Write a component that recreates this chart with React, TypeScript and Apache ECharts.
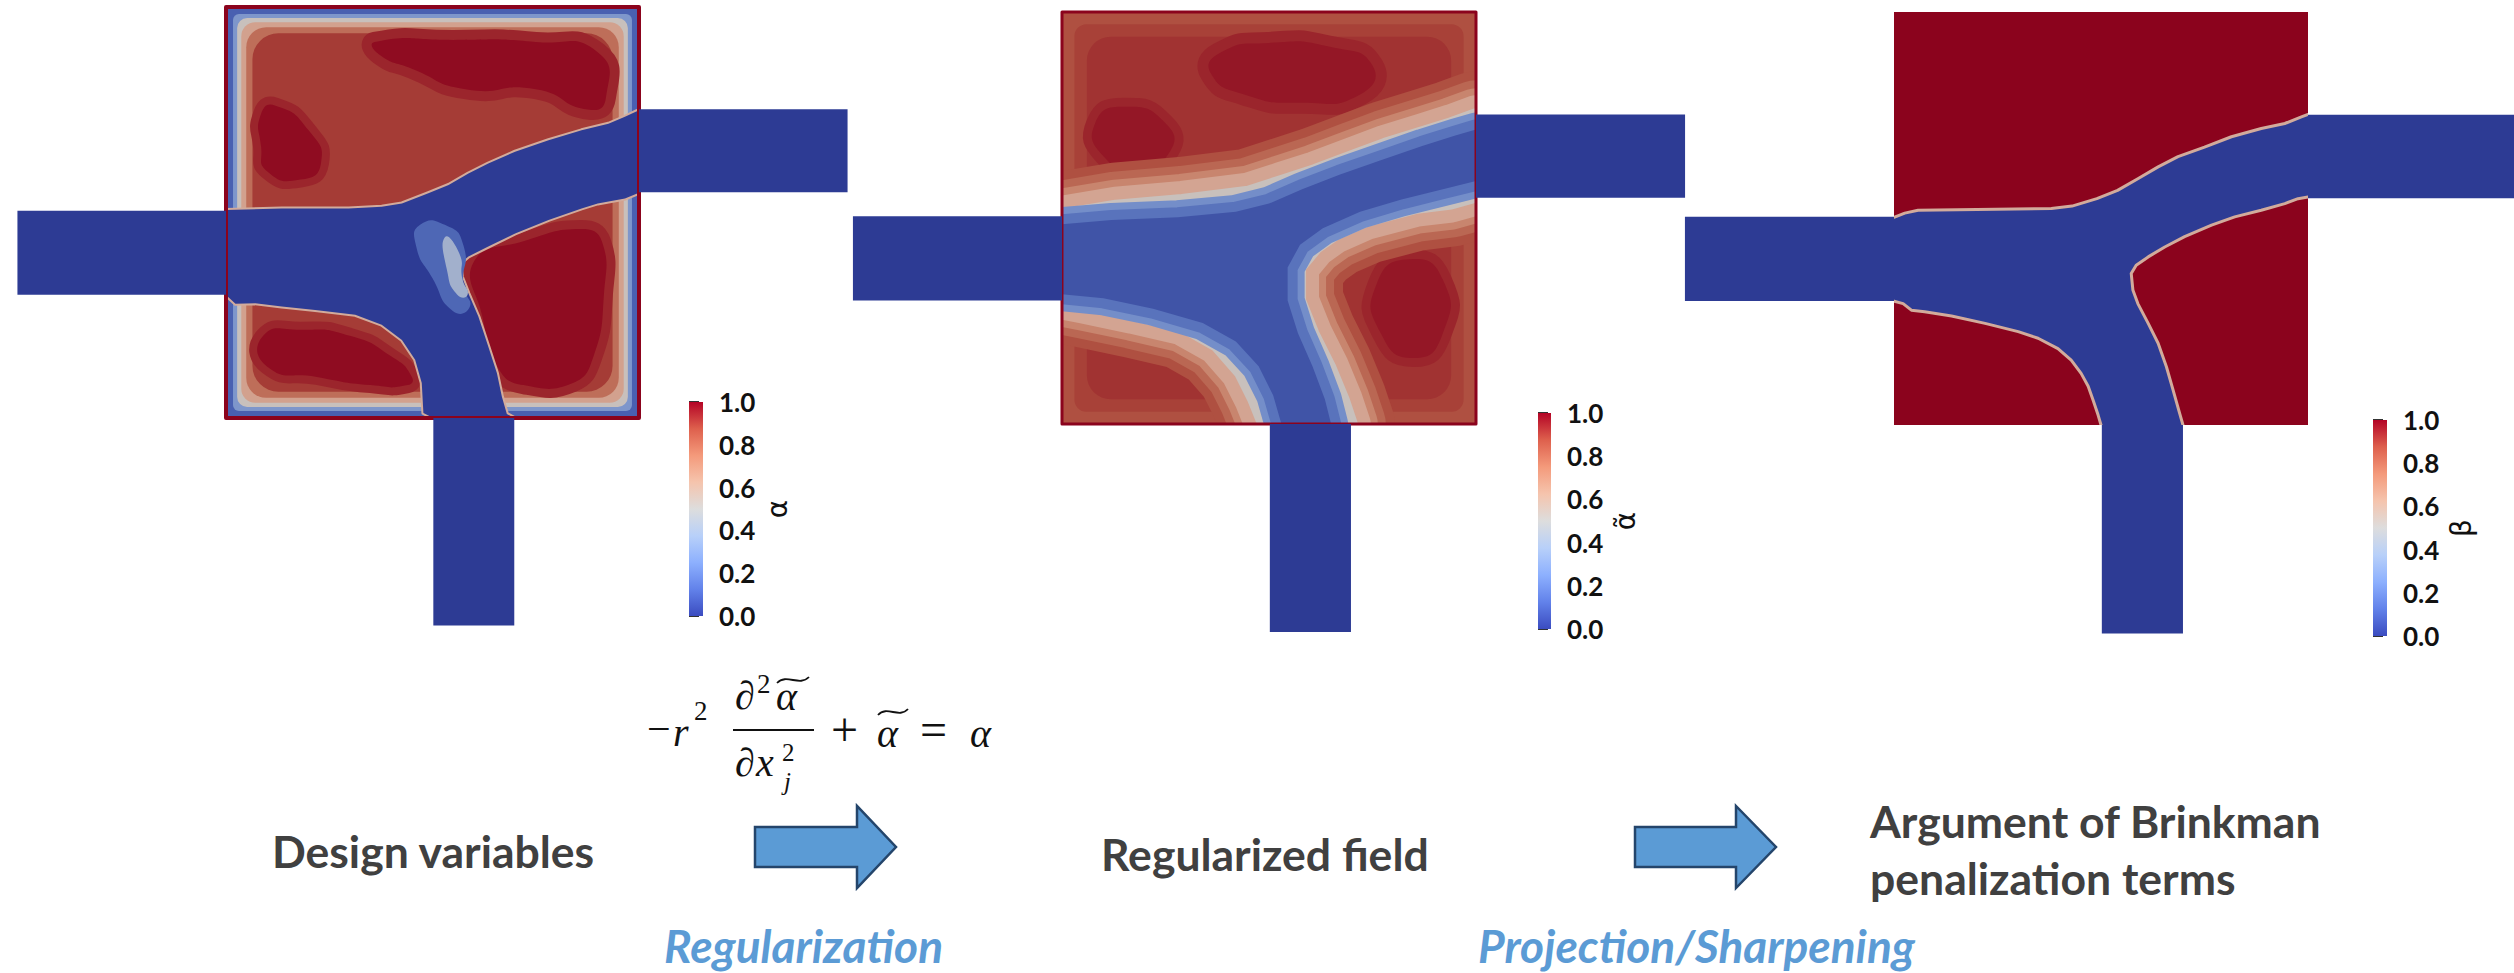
import React, { useEffect, useRef } from "react";
import * as echarts from "echarts";

const PAGE_W = 2514;
const PAGE_H = 973;

// ---- colour maps (cool-to-warm) ----
const FIELD_COLORS = ["#2d3b94", "#4a62b2", "#6d88c8", "#98acd0", "#c8c0bc", "#d4a694", "#c47a62", "#ac4a3c", "#8b031d"];
const BAR_COLORS = ["#3b4cc0", "#6282ea", "#8db0fe", "#b8d0f9", "#dddddd", "#f5c4ad", "#f49a7b", "#de604d", "#b40426"];

// ---- colour-bar axis ----
const BAR_MIN = 0;
const BAR_MAX = 1;
const BAR_STEP = 0.2;
const BAR_TITLES = ["α", "α̃", "β"];

// ---- labels ----
const STAGE_LABELS = ["Design variables", "Regularized field", "Argument of Brinkman", "penalization terms"];
const STEP_LABELS = ["Regularization", "Projection/Sharpening"];

// ---- geometry, in units of the square design domain (u right, v down) ----
const SQUARE = [[0, 0], [1, 0], [1, 1], [0, 1]];
const PIPES = [
  [-0.505, 0.496, 0, 0.7],
  [1, 0.249, 1.505, 0.451],
  [0.502, 1, 0.698, 1.505],
];
// insets of the wall layers from the square's edge
const P1_WALL_INSETS = [0, 0.017, 0.027, 0.037, 0.049, 0.064];
const P2_WALL_INSETS = [0, 0.03, 0.06];

const P1_CHANNEL = [
  [-0.1, 0.494], [0, 0.494], [0.135, 0.49], [0.297, 0.49], [0.377, 0.486], [0.426, 0.478], [0.49, 0.453],
  [0.539, 0.433], [0.587, 0.405], [0.635, 0.381], [0.7, 0.352], [0.781, 0.324], [0.861, 0.3], [0.926, 0.284],
  [0.966, 0.267], [1, 0.251], [1.1, 0.251],
  [1.1, 0.452], [1, 0.452], [0.966, 0.466], [0.9, 0.478], [0.861, 0.49], [0.781, 0.518], [0.7, 0.551],
  [0.635, 0.583], [0.587, 0.607], [0.567, 0.624], [0.571, 0.656], [0.587, 0.697], [0.611, 0.753],
  [0.635, 0.826], [0.656, 0.891], [0.668, 0.948], [0.68, 0.99], [0.698, 1], [0.698, 1.1],
  [0.502, 1.1], [0.502, 1], [0.478, 0.988], [0.474, 0.915], [0.458, 0.858], [0.426, 0.81], [0.377, 0.773],
  [0.313, 0.749], [0.216, 0.737], [0.135, 0.729], [0.071, 0.721], [0.023, 0.722], [0, 0.701], [-0.1, 0.701],
];
const P1_DARK_TOP = [[0.36, 0.085], [0.55, 0.08], [0.75, 0.085], [0.9, 0.11], [0.92, 0.22], [0.88, 0.25], [0.75, 0.2], [0.58, 0.2], [0.45, 0.15], [0.37, 0.115]];
const P1_DARK_LEFT = [[0.085, 0.26], [0.12, 0.24], [0.2, 0.3], [0.23, 0.38], [0.18, 0.42], [0.1, 0.4], [0.085, 0.34]];
const P1_DARK_LR = [[0.6, 0.62], [0.72, 0.57], [0.86, 0.54], [0.91, 0.57], [0.915, 0.7], [0.89, 0.85], [0.84, 0.915], [0.72, 0.92], [0.66, 0.88], [0.62, 0.75]];
const P1_DARK_LL = [[0.09, 0.8], [0.18, 0.785], [0.3, 0.8], [0.4, 0.85], [0.45, 0.9], [0.44, 0.92], [0.35, 0.92], [0.22, 0.9], [0.1, 0.875]];
const P1_CROTCH_WIDE = [[0.47, 0.53], [0.53, 0.53], [0.575, 0.58], [0.575, 0.68], [0.59, 0.73], [0.55, 0.74], [0.5, 0.66], [0.46, 0.58]];
const P1_CROTCH_NARROW = [[0.53, 0.56], [0.565, 0.6], [0.572, 0.66], [0.585, 0.7], [0.56, 0.7], [0.535, 0.64]];

const P2_CHANNEL = [
  [-0.1, 0.492], [0, 0.492], [0.13, 0.47], [0.29, 0.456], [0.45, 0.436], [0.53, 0.41], [0.61, 0.384], [0.7, 0.35],
  [0.78, 0.32], [0.87, 0.292], [0.94, 0.27], [1, 0.248], [1.1, 0.248],
  [1.1, 0.448], [1, 0.448], [0.94, 0.465], [0.857, 0.475], [0.735, 0.507], [0.66, 0.54], [0.615, 0.572],
  [0.575, 0.62], [0.575, 0.7], [0.607, 0.78], [0.647, 0.86], [0.68, 0.94], [0.7, 1], [0.7, 1.1],
  [0.486, 1.1], [0.486, 1], [0.462, 0.94], [0.43, 0.876], [0.373, 0.81], [0.29, 0.763], [0.17, 0.735],
  [0.05, 0.71], [0, 0.7], [-0.1, 0.7],
];
const P2_CORE = [
  [-0.1, 0.515], [0, 0.515], [0.12, 0.505], [0.28, 0.498], [0.42, 0.485], [0.5, 0.465], [0.58, 0.43], [0.67, 0.395],
  [0.77, 0.36], [0.87, 0.325], [0.95, 0.3], [1, 0.285], [1.1, 0.285],
  [1.1, 0.41], [1, 0.41], [0.92, 0.43], [0.82, 0.455], [0.72, 0.485], [0.63, 0.525], [0.575, 0.565],
  [0.545, 0.62], [0.545, 0.7], [0.57, 0.78], [0.605, 0.86], [0.635, 0.94], [0.65, 1], [0.65, 1.1],
  [0.53, 1.1], [0.53, 1], [0.51, 0.93], [0.475, 0.86], [0.42, 0.8], [0.34, 0.755], [0.22, 0.72],
  [0.1, 0.695], [0, 0.685], [-0.1, 0.685],
];
const P2_DARK_TOP = [[0.38, 0.1], [0.5, 0.075], [0.65, 0.085], [0.75, 0.13], [0.72, 0.2], [0.58, 0.22], [0.44, 0.2], [0.36, 0.15]];
const P2_DARK_LEFT = [[0.08, 0.27], [0.15, 0.23], [0.25, 0.27], [0.26, 0.34], [0.18, 0.38], [0.1, 0.35]];
const P2_DARK_RIGHT = [[0.76, 0.66], [0.84, 0.6], [0.92, 0.65], [0.92, 0.78], [0.85, 0.84], [0.77, 0.78]];

const P3_CHANNEL = [
  [-0.1, 0.497], [0, 0.497], [0.026, 0.487], [0.058, 0.48], [0.2, 0.478], [0.38, 0.476], [0.43, 0.47], [0.49, 0.452],
  [0.54, 0.432], [0.59, 0.403], [0.638, 0.375], [0.686, 0.35], [0.75, 0.327], [0.815, 0.302], [0.887, 0.282],
  [0.944, 0.27], [0.984, 0.254], [1, 0.248], [1.1, 0.248],
  [1.1, 0.448], [1, 0.448], [0.976, 0.452], [0.944, 0.464], [0.887, 0.48], [0.823, 0.496], [0.767, 0.516],
  [0.702, 0.544], [0.654, 0.569], [0.614, 0.593], [0.585, 0.613], [0.573, 0.633], [0.577, 0.673], [0.589, 0.706],
  [0.614, 0.754], [0.638, 0.802], [0.658, 0.859], [0.674, 0.915], [0.69, 0.972], [0.698, 1], [0.698, 1.1],
  [0.5, 1.1], [0.5, 1], [0.493, 0.976], [0.481, 0.94], [0.469, 0.906], [0.452, 0.875], [0.428, 0.843],
  [0.396, 0.815], [0.348, 0.79], [0.3, 0.774], [0.22, 0.754], [0.139, 0.736], [0.074, 0.726], [0.042, 0.722],
  [0.022, 0.706], [0, 0.7], [-0.1, 0.7],
];

// ---- field levels (0..1) ----
const P1_LEVELS = {
  wall: [0.12, 0.3, 0.5, 0.64, 0.78, 0.9], darkHalo: 0.94, dark: 0.985, channel: 0, rim: 0.6,
  crotchWide: 0.14, crotchNarrow: 0.4, border: 1,
};
const P2_LEVELS = {
  wall: [0.86, 0.89, 0.915], darkHalo: 0.94, dark: 0.965, halo: [0.86, 0.8, 0.72, 0.63], channel: 0.36, rim: 0.5,
  coreRim: [0.27, 0.18], core: 0.08, border: 1,
};
const P3_LEVELS = { base: 1, channel: 0, rim: 0.6 };
const PIPE_LEVEL = 0;

// ---- layout (pixels) ----
const PANEL_BOXES = [
  { left: 226, top: 7, width: 413, height: 411 },
  { left: 1062, top: 12, width: 414, height: 412 },
  { left: 1894, top: 12, width: 414, height: 413 },
];
const BAR_BOXES = [
  { left: 689, top: 402, width: 14, height: 214 },
  { left: 1538, top: 413, width: 13, height: 216 },
  { left: 2373, top: 420, width: 14, height: 216 },
];
const P1_WALL_RADII = [0, 6, 10, 14, 20, 26];
const P2_WALL_RADII = [0, 12, 24];

type Layer = { shape?: number[][]; inset?: number; radius?: number; level: number; width?: number; smooth?: number };

const pipeRect = (p: number[]) => [[p[0], p[1]], [p[2], p[1]], [p[2], p[3]], [p[0], p[3]]];

function buildLayers() {
  const L1 = P1_LEVELS;
  const L2 = P2_LEVELS;
  const p1: Layer[] = [
    ...P1_WALL_INSETS.map((inset, k) => ({ inset, radius: P1_WALL_RADII[k], level: L1.wall[k] })),
    { shape: P1_DARK_TOP, level: L1.darkHalo, width: 20, smooth: 0.6 },
    { shape: P1_DARK_LEFT, level: L1.darkHalo, width: 16, smooth: 0.6 },
    { shape: P1_DARK_LR, level: L1.darkHalo, width: 18, smooth: 0.5 },
    { shape: P1_DARK_LL, level: L1.darkHalo, width: 16, smooth: 0.6 },
    { shape: P1_DARK_TOP, level: L1.dark, smooth: 0.6 },
    { shape: P1_DARK_LEFT, level: L1.dark, smooth: 0.6 },
    { shape: P1_DARK_LR, level: L1.dark, smooth: 0.5 },
    { shape: P1_DARK_LL, level: L1.dark, smooth: 0.6 },
    { shape: P1_CHANNEL, level: L1.rim, width: 4 },
    { shape: P1_CHANNEL, level: L1.channel },
    { shape: P1_CROTCH_WIDE, level: L1.crotchWide, smooth: 0.6 },
    { shape: P1_CROTCH_NARROW, level: L1.crotchNarrow, smooth: 0.6 },
  ];
  const p2: Layer[] = [
    ...P2_WALL_INSETS.map((inset, k) => ({ inset, radius: P2_WALL_RADII[k], level: L2.wall[k] })),
    { shape: P2_DARK_TOP, level: L2.darkHalo, width: 22, smooth: 0.6 },
    { shape: P2_DARK_LEFT, level: L2.darkHalo, width: 18, smooth: 0.6 },
    { shape: P2_DARK_RIGHT, level: L2.darkHalo, width: 18, smooth: 0.6 },
    { shape: P2_DARK_TOP, level: L2.dark, smooth: 0.6 },
    { shape: P2_DARK_LEFT, level: L2.dark, smooth: 0.6 },
    { shape: P2_DARK_RIGHT, level: L2.dark, smooth: 0.6 },
    { shape: P2_CHANNEL, level: L2.halo[0], width: 86 },
    { shape: P2_CHANNEL, level: L2.halo[1], width: 68 },
    { shape: P2_CHANNEL, level: L2.halo[2], width: 52 },
    { shape: P2_CHANNEL, level: L2.halo[3], width: 38 },
    { shape: P2_CHANNEL, level: L2.channel },
    { shape: P2_CHANNEL, level: L2.rim, width: 12 },
    { shape: P2_CORE, level: L2.coreRim[0], width: 34 },
    { shape: P2_CORE, level: L2.coreRim[1], width: 20 },
    { shape: P2_CORE, level: L2.core },
  ];
  const p3: Layer[] = [
    { shape: SQUARE, level: P3_LEVELS.base },
    { shape: P3_CHANNEL, level: P3_LEVELS.channel },
    { shape: P3_CHANNEL, level: P3_LEVELS.rim, width: 3 },
  ];
  const pipes = PIPES.map((p) => ({ shape: pipeRect(p), level: PIPE_LEVEL }));
  const outer: Layer[][] = [
    [{ shape: SQUARE, level: L1.border, width: 4 }, ...pipes],
    [{ shape: SQUARE, level: L2.border, width: 3 }, ...pipes],
    [...pipes],
  ];
  return { inner: [p1, p2, p3], outer };
}

function layerSeries(i: number, layers: Layer[], clip: boolean) {
  return {
    type: "custom",
    xAxisIndex: i,
    yAxisIndex: i,
    clip,
    silent: true,
    data: layers.map((l, k) => [l.level, k]),
    renderItem: (params: any, api: any) => {
      const l = layers[params.dataIndex];
      const color = api.visual("color");
      if (l.inset !== undefined) {
        const a = api.coord([l.inset, l.inset]);
        const b = api.coord([1 - l.inset, 1 - l.inset]);
        return {
          type: "rect",
          shape: { x: a[0], y: a[1], width: b[0] - a[0], height: b[1] - a[1], r: l.radius || 0 },
          style: { fill: color },
        };
      }
      const pts = (l.shape as number[][]).map((p) => api.coord(p));
      const style: any = l.width
        ? { fill: "none", stroke: color, lineWidth: l.width, lineJoin: "round" }
        : { fill: color };
      return { type: "polygon", shape: { points: pts, smooth: l.smooth || 0 }, style };
    },
  };
}

function barSeries(i: number) {
  return {
    type: "custom",
    xAxisIndex: i,
    yAxisIndex: i,
    silent: true,
    data: [[0.5, 0.5]],
    renderItem: (_p: any, api: any) => {
      const tl = api.coord([0, BAR_MAX]);
      const br = api.coord([1, BAR_MIN]);
      return {
        type: "rect",
        shape: { x: tl[0], y: tl[1], width: br[0] - tl[0], height: br[1] - tl[1] },
        style: {
          fill: new echarts.graphic.LinearGradient(
            0, 1, 0, 0,
            BAR_COLORS.map((c, k) => ({ offset: k / (BAR_COLORS.length - 1), color: c }))
          ),
        },
      };
    },
  };
}

const SERIF = "'Liberation Serif', 'DejaVu Serif', serif";
const SANS = "Lato, 'Open Sans', sans-serif";

function t(text: string, x: number, y: number, fontSize: number, extra: any = {}) {
  return {
    type: "text",
    x,
    y,
    z: 100,
    silent: true,
    style: { text, fontSize, fontFamily: SERIF, fill: "#111", align: "left", verticalAlign: "middle", ...extra },
  };
}

function tilde(x0: number, y: number, w: number) {
  return {
    type: "bezierCurve",
    z: 100,
    silent: true,
    shape: {
      x1: x0, y1: y + 3,
      cpx1: x0 + w * 0.3, cpy1: y - 7,
      cpx2: x0 + w * 0.7, cpy2: y + 7,
      x2: x0 + w, y2: y - 3,
    },
    style: { stroke: "#111", lineWidth: 1.8, fill: "none" },
  };
}

function buildGraphics() {
  const gray = "#404040";
  const blue = "#5b9bd5";
  const bold = { fontFamily: SANS, fontWeight: "bold", fill: gray };
  const blueIt = { fontFamily: SANS, fontWeight: "bold", fontStyle: "italic", fill: blue };
  const it = { fontStyle: "italic" };
  const arrow = (x0: number, xs: number, xt: number) => ({
    type: "polygon",
    z: 100,
    silent: true,
    shape: { points: [[x0, 827], [xs, 827], [xs, 806], [xt, 847], [xs, 888], [xs, 867], [x0, 867]] },
    style: { fill: blue, stroke: "#24456b", lineWidth: 2.5, lineJoin: "miter" },
  });
  return [
    // equation
    t("−", 647, 729, 42),
    t("r", 673, 732, 40, it),
    t("2", 694, 711, 27),
    t("∂", 735, 695, 40),
    t("2", 757, 684, 27),
    t("α", 776, 696, 40, it),
    tilde(777, 680, 32),
    { type: "line", z: 100, silent: true, shape: { x1: 733, y1: 730, x2: 814, y2: 730 }, style: { stroke: "#111", lineWidth: 2 } },
    t("∂", 735, 762, 40),
    t("x", 756, 762, 40, it),
    t("2", 782, 752, 25),
    t("j", 784, 781, 25, it),
    t("+", 831, 729, 48),
    t("α", 877, 733, 40, it),
    tilde(878, 712, 30),
    t("=", 920, 729, 48),
    t("α", 970, 733, 40, it),
    // stage labels
    t(STAGE_LABELS[0], 272, 850, 44.5, bold),
    t(STAGE_LABELS[1], 1101, 853, 44.5, bold),
    t(STAGE_LABELS[2], 1870, 820, 44.5, bold),
    t(STAGE_LABELS[3], 1870, 877, 44.5, bold),
    t(STEP_LABELS[0], 664, 945, 46, blueIt),
    t(STEP_LABELS[1], 1478, 945, 46, blueIt),
    arrow(755, 857, 896),
    arrow(1635, 1736, 1776),
  ];
}

export default function App() {
  const ref = useRef<HTMLDivElement>(null);
  useEffect(() => {
    if (!ref.current) return;
    const chart = echarts.init(ref.current, undefined, { renderer: "svg" });
    const { inner, outer } = buildLayers();

    const grids = [...PANEL_BOXES, ...BAR_BOXES].map((b) => ({ ...b, show: false }));
    const xAxes: any[] = [];
    const yAxes: any[] = [];
    PANEL_BOXES.forEach((_, i) => {
      xAxes.push({ type: "value", gridIndex: i, min: 0, max: 1, show: false });
      yAxes.push({ type: "value", gridIndex: i, min: 0, max: 1, inverse: true, show: false });
    });
    BAR_BOXES.forEach((_, j) => {
      const gi = PANEL_BOXES.length + j;
      xAxes.push({ type: "value", gridIndex: gi, min: 0, max: 1, show: false });
      yAxes.push({
        type: "value",
        gridIndex: gi,
        min: BAR_MIN,
        max: BAR_MAX,
        interval: BAR_STEP,
        position: "right",
        axisLine: { show: false },
        splitLine: { show: false },
        axisTick: { show: true, length: 10, lineStyle: { color: "#333", width: 2 } },
        axisLabel: {
          show: true,
          margin: 16,
          fontSize: 26,
          fontFamily: SANS,
          fontWeight: "bold",
          color: "#111",
          formatter: (v: number) => v.toFixed(1),
        },
        name: BAR_TITLES[j],
        nameLocation: "middle",
        nameGap: 60,
        nameMoveOverlap: false,
        nameRotate: 90,
        nameTextStyle: { fontSize: 28, fontFamily: "'DejaVu Sans', sans-serif", color: "#111" },
      });
    });

    const series: any[] = [];
    inner.forEach((layers, i) => series.push(layerSeries(i, layers, true)));
    outer.forEach((layers, i) => series.push(layerSeries(i, layers, false)));
    const fieldSeriesIdx = series.map((_, k) => k);
    BAR_BOXES.forEach((_, j) => series.push(barSeries(PANEL_BOXES.length + j)));

    chart.setOption({
      animation: false,
      backgroundColor: "#ffffff",
      grid: grids,
      xAxis: xAxes,
      yAxis: yAxes,
      visualMap: [
        {
          type: "continuous",
          show: false,
          min: 0,
          max: 1,
          dimension: 0,
          seriesIndex: fieldSeriesIdx,
          inRange: { color: FIELD_COLORS },
        },
      ],
      graphic: buildGraphics(),
      series,
    });
    return () => chart.dispose();
  }, []);
  return (
    <div
      ref={ref}
      style={{ position: "fixed", left: 0, top: 0, width: PAGE_W, height: PAGE_H, background: "#fff" }}
    />
  );
}
